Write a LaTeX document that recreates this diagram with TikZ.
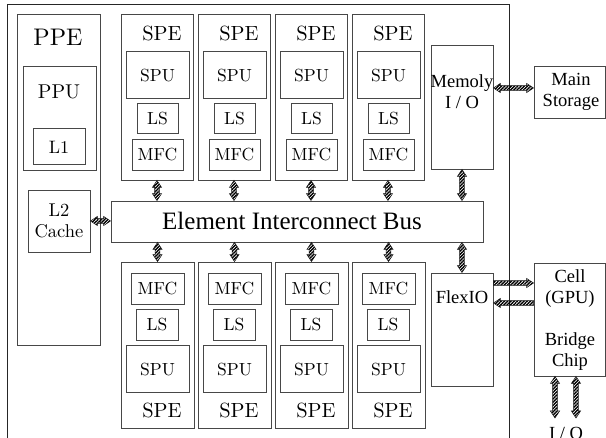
\documentclass[tikz,border=0pt]{standalone}
\usepackage{fontspec}
\setmainfont{lmroman10-regular.otf}
\newfontfamily\tms{Liberation Serif}
\usetikzlibrary{calc,fit,patterns.meta}
\newcommand\fsz[2]{\fontsize{#1}{#2}\selectfont}
\tikzset{
  box/.style={draw=black!72, line width=0.9pt, inner sep=0pt},
  lbl/.style={inner sep=0pt, align=center},
  sm/.style={lbl, font=\fsz{17.5}{20}},
  hatfill/.style={draw=black!90, line width=0.5pt,
    pattern={Lines[angle=45,distance=2.3pt,line width=1.4pt]}},
  hat/.style={hatfill, to path={let \p1=(\tikztostart), \p2=(\tikztotarget),
    \p3=($(\p1)!7pt!(\p2)$), \p4=($(\p2)!7pt!(\p1)$) in
    (\p1) -- ($(\p3)!4.6pt!90:(\p2)$) -- ($(\p3)!2.3pt!90:(\p2)$)
    -- ($(\p4)!2.3pt!-90:(\p1)$) -- ($(\p4)!4.6pt!-90:(\p1)$) -- (\p2)
    -- ($(\p4)!4.6pt!90:(\p1)$) -- ($(\p4)!2.3pt!90:(\p1)$)
    -- ($(\p3)!2.3pt!-90:(\p2)$) -- ($(\p3)!4.6pt!-90:(\p2)$) -- cycle}},
  hatone/.style={hatfill, to path={let \p1=(\tikztostart), \p2=(\tikztotarget),
    \p4=($(\p2)!7pt!(\p1)$) in
    ($(\p1)!2.3pt!90:(\p2)$) -- ($(\p4)!2.3pt!-90:(\p1)$) -- ($(\p4)!4.6pt!-90:(\p1)$)
    -- (\p2) -- ($(\p4)!4.6pt!90:(\p1)$) -- ($(\p4)!2.3pt!90:(\p1)$)
    -- ($(\p1)!2.3pt!-90:(\p2)$) -- cycle}},
}
\begin{document}
\begin{tikzpicture}[x=1pt,y=-1pt]
\useasboundingbox (0,0) rectangle (606,438);
\clip (0,0) rectangle (606,438);
\draw[black!85, line width=0.9pt] (7,4) rectangle (509,480);
% PPE
\node[box, fit={(17,14) (100,345)}] (ppe) {};
\node[lbl, font=\fsz{24}{26}] (ppet) at (58,37) {PPE};
\node[box, fit={(23,66) (96,170)}] (ppu) {};
\node[lbl, font=\fsz{20}{22}] (pput) at (59,92) {PPU};
\node[box, fit={(33,128) (85,164)}] (l1) {};
\node[lbl, font=\fsz{18}{20}] (l1t) at (59,147) {L1};
\node[box, fit={(28,190) (90,252)}] (l2) {};
\node[lbl, font=\fsz{18.5}{21}] (l2t) at (59,221) {L2\\Cache};
% EIB
\node[box, fit={(111,201) (483,242)}] (eib) {};
\node[lbl, font=\tms\fsz{25}{28}] (eibt) at (292,221) {Element Interconnect Bus};
% SPEs
\foreach \i [evaluate=\i as \x using 121+77*\i] in {0,1,2,3}{
  \node[box, fit={(\x,14) (\x+72,180)}] (tspe\i) {};
  \node[lbl, font=\fsz{20.5}{22}] (tspet\i) at (\x+41,34) {SPE};
  \node[box, fit={(\x+5,51) (\x+68,98)}] (tspu\i) {};
  \node[sm] (tsput\i) at (\x+36.5,76) {SPU};
  \node[box, fit={(\x+16,103) (\x+57,133)}] (tls\i) {};
  \node[sm] (tlst\i) at (\x+36.5,118.5) {LS};
  \node[box, fit={(\x+11,139) (\x+62,170)}] (tmfc\i) {};
  \node[sm] (tmfct\i) at (\x+36.5,155) {MFC};
  \node[box, fit={(\x,262) (\x+73,428)}] (bspe\i) {};
  \node[box, fit={(\x+10,273) (\x+63,304)}] (bmfc\i) {};
  \node[sm] (bmfct\i) at (\x+36.5,289) {MFC};
  \node[box, fit={(\x+15,309) (\x+57,340)}] (bls\i) {};
  \node[sm] (blst\i) at (\x+36,324.5) {LS};
  \node[box, fit={(\x+5,345) (\x+68,392)}] (bspu\i) {};
  \node[sm] (bsput\i) at (\x+36.5,370) {SPU};
  \node[lbl, font=\fsz{20.5}{22}] (bspet\i) at (\x+41,411) {SPE};
}
% right side
\node[box, fit={(431,45) (493,169)}] (mem) {};
\node[lbl, font=\tms\fsz{18.5}{21}] (memt) at (462,92) {Memoly\\I / O};
\node[box, fit={(534,66) (605,118)}] (ms) {};
\node[lbl, font=\tms\fsz{18.5}{21}] (mst) at (571,92) {Main\\Storage};
\node[box, fit={(431,273) (493,386)}] (flex) {};
\node[lbl, font=\tms\fsz{18.5}{21}] (flext) at (462,297) {FlexIO};
\node[box, fit={(534,263) (605,376)}] (cell) {};
\node[lbl, font=\tms\fsz{18.5}{21}] (cellt) at (570,320) {Cell\\(GPU)\\[21pt]Bridge\\Chip};
\coordinate (io1) at (555,418);
\coordinate (io2) at (576,418);
\node[lbl, font=\tms\fsz{18.5}{21}, anchor=north] (io) at (566,427) {I / O};
% connectors
\draw[hat] (l2.east) to (eib.west |- l2.east);
\foreach \i in {0,...,3}{
  \draw[hat] (tspe\i.south) to (eib.north -| tspe\i.south);
  \draw[hat] (eib.south -| bspe\i.north) to (bspe\i.north);
}
\draw[hat] (mem.south) to (eib.north -| mem.south);
\draw[hat] (eib.south -| flex.north) to (flex.north);
\draw[hat] (mem.east |- 0,88) to (ms.west |- 0,88);
\draw[hatone] (flex.east |- 0,283) to (cell.west |- 0,283);
\draw[hatone] (cell.west |- 0,303) to (flex.east |- 0,303);
\draw[hat] (cell.south -| io1) to (io1);
\draw[hat] (cell.south -| io2) to (io2);
\end{tikzpicture}
\end{document}
